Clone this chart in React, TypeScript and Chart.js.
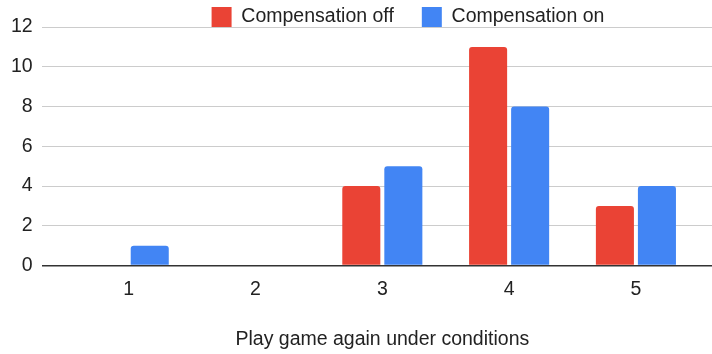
import React, { useEffect, useRef } from "react";
import { Chart, registerables } from "chart.js";

Chart.register(...registerables);

const categories = ["1", "2", "3", "4", "5"];
const categoryValues = [1, 2, 3, 4, 5];
const seriesNames = ["Compensation off", "Compensation on"];
const compensationOff = [0, 0, 4, 11, 3];
const compensationOn = [1, 0, 5, 8, 4];
const yTicks = [0, 2, 4, 6, 8, 10, 12];
const xTitle = "Play game again under conditions";

const FONT = "'Liberation Sans', Arial, sans-serif";
const TEXT = "#222222";

export default function App() {
  const ref = useRef<HTMLCanvasElement | null>(null);

  useEffect(() => {
    if (!ref.current) return;
    const layoutTweak = {
      id: "layoutTweak",
      afterLayout(chart: any) {
        const l = chart.legend;
        if (l) {
          l.top -= 21;
          l.left += 51;
          l.right += 51;
        }
        const x = chart.scales.x;
        if (x) {
          // centre the axis title over the category band, as in the reference
          x.right += 11;
        }
      },
    };
    const chart = new Chart(ref.current, {
      type: "bar",
      data: {
        datasets: [
          {
            label: seriesNames[0],
            data: categoryValues.map((x, i) => ({ x, y: compensationOff[i] })),
            backgroundColor: "#EA4335",
            borderRadius: 3,
            borderSkipped: "start",
            categoryPercentage: 0.663,
            barPercentage: 0.905,
          },
          {
            label: seriesNames[1],
            data: categoryValues.map((x, i) => ({ x, y: compensationOn[i] })),
            backgroundColor: "#4285F4",
            borderRadius: 3,
            borderSkipped: "start",
            categoryPercentage: 0.663,
            barPercentage: 0.905,
          },
        ],
      },
      options: {
        responsive: false,
        animation: false,
        layout: { padding: { left: 2, right: 0, top: 0, bottom: 0 } },
        plugins: {
          legend: {
            position: "top",
            align: "center",
            maxHeight: 27,
            labels: {
              boxWidth: 20,
              boxHeight: 20,
              padding: 28,
              color: TEXT,
              font: { family: FONT, size: 19.5 },
            },
          },
          tooltip: { enabled: false },
        },
        scales: {
          x: {
            type: "linear",
            offset: false,
            min: 0.3136,
            max: 5.6,
            grid: { display: false, drawTicks: false },
            border: { display: false },
            afterBuildTicks(scale: any) {
              scale.ticks = categoryValues.map((v) => ({ value: v }));
            },
            ticks: {
              padding: 12,
              color: TEXT,
              font: { family: FONT, size: 19.5 },
              callback: (v: any) => categories[categoryValues.indexOf(Number(v))] ?? "",
            },
            title: {
              display: true,
              text: xTitle,
              color: TEXT,
              font: { family: FONT, size: 19.5 },
              padding: { top: 15.2, bottom: 2.5 },
            },
          },
          y: {
            min: 0,
            max: 12,
            afterBuildTicks(scale: any) {
              scale.ticks = yTicks.map((v) => ({ value: v }));
            },
            border: { display: false },
            grid: {
              drawTicks: false,
              color: (ctx: any) => (ctx.tick && ctx.tick.value === 0 ? "#333333" : "#cccccc"),
              lineWidth: (ctx: any) => (ctx.tick && ctx.tick.value === 0 ? 1.5 : 1),
            },
            ticks: {
              padding: 9,
              color: TEXT,
              font: { family: FONT, size: 19.5 },
            },
          },
        },
      },
      plugins: [layoutTweak],
    } as any);
    return () => chart.destroy();
  }, []);

  return (
    <div style={{ position: "fixed", left: 0, top: 0, width: 712, height: 354, background: "#fff" }}>
      <canvas ref={ref} width={712} height={354} style={{ display: "block" }} />
    </div>
  );
}
